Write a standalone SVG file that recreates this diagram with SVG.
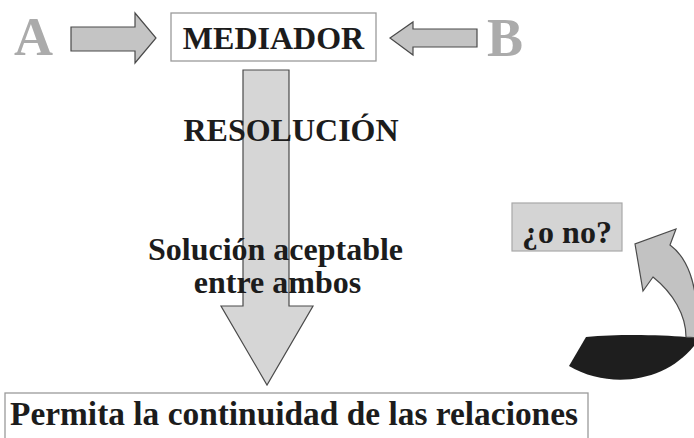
<svg xmlns="http://www.w3.org/2000/svg" width="694" height="438" viewBox="0 0 694 438">
<style>
  .t{font-family:"Liberation Serif","Times New Roman",serif;font-weight:bold;fill:#1c1c1c}
  .big{font-family:"Liberation Serif","Times New Roman",serif;font-weight:bold;fill:#ababab;font-size:54px}
  .arr{fill:#c4c4c4;stroke:#4a4a4a;stroke-width:1.2;stroke-linejoin:miter}
  .box{fill:#ffffff;stroke:#9a9a9a;stroke-width:1.3}
</style>
<rect width="694" height="438" fill="#ffffff"/>
<g id="A"><text class="big" x="14" y="55">A</text></g>
<g id="B"><text class="big" x="487" y="56">B</text></g>
<g id="mediador">
  <rect class="box" x="171" y="13" width="205" height="48"/>
  <text class="t" x="273.5" y="49" font-size="32" text-anchor="middle">MEDIADOR</text>
</g>
<g id="connectors">
  <polygon class="arr" points="71,27 135,27 135,13 156,38 135,63 135,51 71,51"/>
  <polygon class="arr" points="477,29 413,29 413,22 390,38 413,55 413,47 477,47"/>
  <polygon class="arr" style="fill:#d6d6d6" points="243,70 289,70 289,306 313,306 267,385 221,306 243,306"/>
  <path id="curve-back" d="M586,337 C620,334 660,335 686,337 L694,338 L694,346 C665,382 610,390 569,366 Z" fill="#1e1e1e"/>
  <path id="curve-front" class="arr" style="fill:#c2c2c2" d="M653,277 L643,291 L635,244 L676,229 L670,245 C688,258 697,285 697,320 L697,338 L686,337 C686,315 673,293 653,277 Z"/>
</g>
<g id="resolucion"><text class="t" x="291" y="141" font-size="32" text-anchor="middle">RESOLUCIÓN</text></g>
<g id="solucion">
  <text class="t" x="275.5" y="260" font-size="32" text-anchor="middle">Solución aceptable</text>
  <text class="t" x="277.5" y="293" font-size="32" text-anchor="middle">entre ambos</text>
</g>
<g id="ono">
  <rect x="512" y="203" width="110" height="48" fill="#d4d4d4" stroke="#a8a8a8" stroke-width="1.2"/>
  <text class="t" x="567" y="243" font-size="32" text-anchor="middle">¿o no?</text>
</g>
<g id="permita">
  <rect class="box" x="5" y="393" width="583" height="50"/>
  <text class="t" x="10" y="425" font-size="33" textLength="568" lengthAdjust="spacingAndGlyphs">Permita la continuidad de las relaciones</text>
</g>
</svg>
